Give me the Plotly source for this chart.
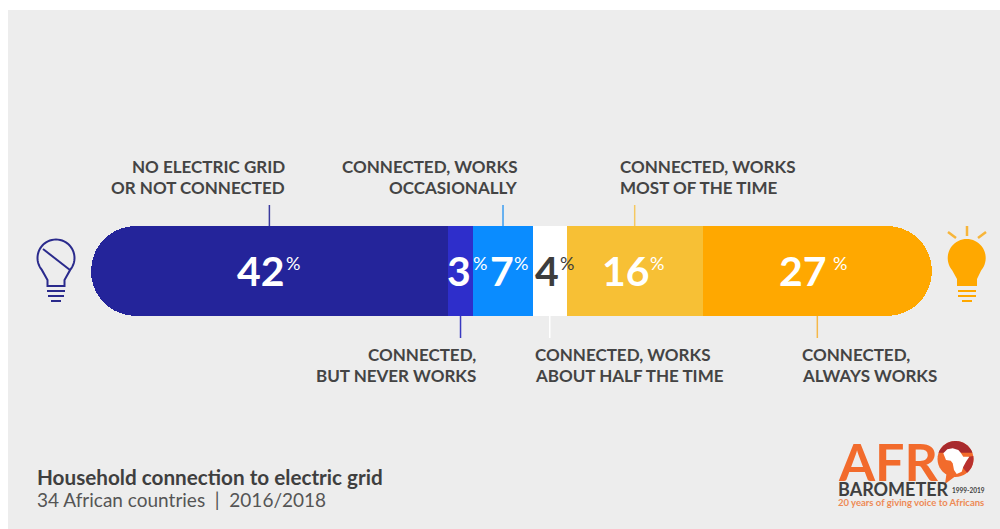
import math
import plotly.graph_objects as go

W, H = 1000, 529

# Survey shares, in percent
categories = [
    "No electric grid or not connected",
    "Connected, but never works",
    "Connected, works occasionally",
    "Connected, works about half the time",
    "Connected, works most of the time",
    "Connected, always works",
]
shares = [42, 3, 7, 4, 16, 27]
bar_colors = ["#24249a", "#2e2ecb", "#0a8cff", "#ffffff", "#f7c035", "#ffa800"]
line_colors = ["#3a3a9e", "#3a3ac0", "#3a9cf0", "#ffffff", "#f5c860", "#f5b84a"]
number_colors = ["#ffffff", "#ffffff", "#ffffff", "#3d3d3d", "#ffffff", "#ffffff"]
callout_lines = [
    ["NO ELECTRIC GRID", "OR NOT CONNECTED"],
    ["CONNECTED,", "BUT NEVER WORKS"],
    ["CONNECTED, WORKS", "OCCASIONALLY"],
    ["CONNECTED, WORKS", "ABOUT HALF THE TIME"],
    ["CONNECTED, WORKS", "MOST OF THE TIME"],
    ["CONNECTED,", "ALWAYS WORKS"],
]
total = sum(shares)

TEXT = "#444444"
FONT = "Lato"
NAVY = "#2a2a8c"
AMBER = "#ffa800"
ORANGE = "#f26b2c"
MAROON = "#a82a2e"


def px(x):
    return x / W


def py(y):
    return 1 - y / H


def path(points, close=True):
    d = "M" + " L".join(f"{px(x):.5f},{py(y):.5f}" for x, y in points)
    return d + (" Z" if close else "")


def arc(cx, cy, r, a0, a1, steps=40):
    # Angles in degrees, clockwise on screen from the positive x direction
    return [(cx + r * math.cos(math.radians(a0 + (a1 - a0) * k / steps)),
             cy + r * math.sin(math.radians(a0 + (a1 - a0) * k / steps))) for k in range(steps + 1)]


def filled(points, color):
    return dict(type="path", xref="paper", yref="paper", path=path(points), fillcolor=color,
                line_width=0, layer="above")


def seg(x0, y0, x1, y1, color, width=2.5):
    return dict(type="line", xref="paper", yref="paper", x0=px(x0), y0=py(y0), x1=px(x1), y1=py(y1),
                line=dict(color=color, width=width), layer="above")


def label(x, y, text, size, color, anchor="left", **kw):
    return dict(x=px(x), y=py(y), xref="paper", yref="paper", text=text, showarrow=False,
                xanchor=anchor, yanchor="middle", font=dict(family=FONT, size=size, color=color), **kw)


fig = go.Figure()

# The end segments sit on offset axes of their own, so each rounded tip faces outward:
# x2 is mirrored about the right edge of the first segment, x3 starts at the last one.
fig.add_trace(go.Bar(y=["grid"], x=[shares[0]], orientation="h", xaxis="x2", name=categories[0],
                     marker=dict(color=bar_colors[0], line_width=0, cornerradius=45), width=1))
start = shares[0]
for i in range(1, len(shares) - 1):
    fig.add_trace(go.Bar(y=["grid"], x=[shares[i]], base=[start], orientation="h", name=categories[i],
                         marker=dict(color=bar_colors[i], line_width=0), width=1))
    start += shares[i]
fig.add_trace(go.Bar(y=["grid"], x=[shares[-1]], orientation="h", xaxis="x3", name=categories[-1],
                     marker=dict(color=bar_colors[-1], line_width=0, cornerradius=45), width=1))

shapes = []
annotations = []

# Backdrop panel
shapes.append(dict(type="rect", xref="paper", yref="paper", x0=px(8), x1=1, y0=0, y1=py(10),
                   fillcolor="#ededed", line_width=0, layer="below"))

number_shift = [17.6, 12.7, 13, 11, 17.3, 12]
percent_shift = [14.6, 10.7, 9, 8, 13.3, 14]
callout_pos = [
    (287, 166.5, "right"), (478, 354.5, "right"), (520, 166.5, "right"),
    (533, 354.5, "left"), (618, 166.5, "left"), (800, 354.5, "left"),
]
start = 0
for i, share in enumerate(shares):
    mid = start + share / 2
    cx, cy, anchor = callout_pos[i]
    above = cy < 270
    shapes.append(dict(type="line", xref="x", yref="paper", x0=mid, x1=mid,
                       y0=py(205 if above else 338), y1=py(226 if above else 316),
                       line=dict(color=line_colors[i], width=1.5), layer="above"))
    annotations.append(dict(x=mid, y=py(270), xref="x", yref="paper", text=f"<b>{share}</b>",
                            showarrow=False, xanchor="right", yanchor="middle", xshift=number_shift[i],
                            font=dict(family=FONT, size=41, color=number_colors[i])))
    annotations.append(dict(x=mid, y=py(263), xref="x", yref="paper", text="%",
                            showarrow=False, xanchor="left", yanchor="middle", xshift=percent_shift[i],
                            font=dict(family=FONT, size=18, color=number_colors[i])))
    for k, line in enumerate(callout_lines[i]):
        annotations.append(label(cx, cy + 21 * k, f"<b>{line}</b>", 17, TEXT, anchor))
    start += share

# Footer
annotations.append(label(35, 477, "<b>Household connection to electric grid</b>", 20.7, "#3f3f3f"))
annotations.append(label(35, 499, "34 African countries  |  2016/2018", 19, "#555555"))

# Unlit bulb, outline only
head = arc(56, 258, 18.5, 140, 400)
shapes.append(dict(type="path", xref="paper", yref="paper",
                   path=path([(47.5, 286), (47.5, 280)] + head + [(64.5, 280), (64.5, 286)]),
                   line=dict(color=NAVY, width=2), layer="above"))
shapes.append(seg(43, 249, 70, 270, NAVY, 2))
for y, a, b in [(291, 47, 65), (296, 48, 64), (301, 51, 61)]:
    shapes.append(seg(a, y, b, y, NAVY, 2))

# Lit bulb, with rays
head = arc(966.7, 258, 19, 140, 400)
shapes.append(filled([(957, 286), (957, 279)] + head + [(977, 279), (977, 286)], AMBER))
for y, a, b in [(291, 958, 976), (296, 958, 976), (301, 962, 972)]:
    shapes.append(seg(a, y, b, y, AMBER, 2))
shapes.append(seg(967, 226, 967, 236, "#f7b53a", 2.5))
shapes.append(seg(948, 232, 956, 238, "#f7b53a", 2.5))
shapes.append(seg(986, 232, 978, 238, "#f7b53a", 2.5))

# Logo: wordmark, then a speech bubble holding the continent
annotations.append(label(836, 461, "<b>AFR</b>", 52, ORANGE))
shapes.append(filled([(947, 470), (945, 484), (957, 475)], ORANGE))
shapes.append(filled(arc(955.5, 459, 18, 0, 360), ORANGE))
shapes.append(filled(arc(955.5, 459, 18, 200, 340), MAROON))
shapes.append(filled([(955.5, 459)] + arc(955.5, 459, 18, -10, 50), "#b8302e"))
shapes.append(filled([(943.3, 453.3), (947.3, 449.3), (952.7, 448.3), (958.3, 450), (960.7, 452.7),
                      (963.3, 456.7), (969.3, 456.7), (966, 461.7), (963.3, 466.7), (961.7, 471.7),
                      (956.7, 474), (954, 470), (952.7, 463.3), (950.7, 460.7), (946, 460)], "#ffffff"))
annotations.append(label(836, 489, "<b>BAROMETER</b>", 18, "#3f3f3f"))
annotations.append(label(950, 490, "<b>1999-2019</b>", 6.5, "#3f3f3f"))
annotations.append(label(836, 502, "<b>20 years of giving voice to Africans</b>", 9.5, "#ee8a55"))

fig.update_layout(
    width=W, height=H, margin=dict(l=0, r=0, t=0, b=0, pad=0), autosize=False,
    paper_bgcolor="#ffffff", plot_bgcolor="rgba(0,0,0,0)", showlegend=False, barmode="overlay", bargap=0,
    xaxis=dict(domain=[px(91), px(932)], range=[0, total], visible=False, fixedrange=True),
    xaxis2=dict(domain=[px(91), px(932)], range=[shares[0], shares[0] - total], overlaying="x",
                visible=False, fixedrange=True),
    xaxis3=dict(domain=[px(91), px(932)], range=[shares[-1] - total, shares[-1]], overlaying="x",
                visible=False, fixedrange=True),
    yaxis=dict(domain=[py(316), py(226)], visible=False, fixedrange=True, range=[-0.5, 0.5]),
    shapes=shapes, annotations=annotations,
)

fig.write_html("out.html")
